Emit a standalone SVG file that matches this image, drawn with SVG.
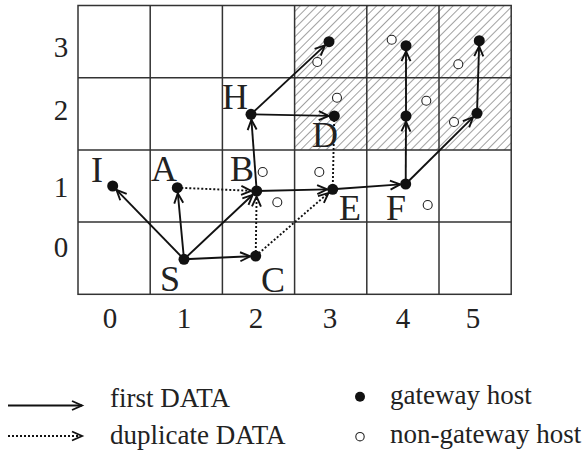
<svg xmlns="http://www.w3.org/2000/svg" width="585" height="463" viewBox="0 0 585 463">
<style>
.grid{stroke:#333;stroke-width:1.5;fill:none}
.lbl{font-family:"Liberation Serif","Times New Roman",serif;font-size:36px;fill:#222;text-anchor:middle}
.ax{font-family:"Liberation Serif","Times New Roman",serif;font-size:29px;fill:#222;text-anchor:middle}
.leg{font-family:"Liberation Serif","Times New Roman",serif;font-size:27px;fill:#222}
.gw{fill:#111}
.ng{fill:#fff;stroke:#222;stroke-width:1.1}
.solid{stroke:#111;stroke-width:1.9;fill:none;marker-end:url(#ah)}
.dot{stroke:#111;stroke-width:1.9;fill:none;stroke-dasharray:2 2;marker-end:url(#ah)}
</style>
<defs>
<pattern id="hatch" patternUnits="userSpaceOnUse" width="6" height="6" patternTransform="rotate(45)">
<line x1="0" y1="0" x2="0" y2="6" stroke="#444" stroke-width="1"/>
</pattern>
<marker id="ah" markerUnits="userSpaceOnUse" markerWidth="12" markerHeight="12" refX="10" refY="4.5" orient="auto" overflow="visible">
<path d="M0,0 L10,4.5 L0,9" fill="none" stroke="#111" stroke-width="1.9"/>
</marker>
</defs>
<rect width="585" height="463" fill="#fff"/>
<g id="grid">
<rect x="294.6" y="5.5" width="216.6" height="144.4" fill="url(#hatch)"/>
<rect class="grid" x="78" y="5.5" width="433.2" height="288.8"/>
<path class="grid" d="M150.2,5.5V294.3M222.4,5.5V294.3M294.6,5.5V294.3M366.8,5.5V294.3M439,5.5V294.3M78,77.7H511.2M78,149.9H511.2M78,222.1H511.2"/>
</g>
<g id="axes">
<text class="ax" x="61" y="57">3</text>
<text class="ax" x="61" y="120">2</text>
<text class="ax" x="61" y="197">1</text>
<text class="ax" x="61" y="257">0</text>
<text class="ax" x="110" y="328">0</text>
<text class="ax" x="184" y="328">1</text>
<text class="ax" x="256" y="328">2</text>
<text class="ax" x="330" y="328">3</text>
<text class="ax" x="403" y="328">4</text>
<text class="ax" x="473" y="328">5</text>
</g>
<g id="connectors">
<line class="solid" x1="184" y1="259.3" x2="116.5" y2="189.9"/>
<line class="solid" x1="184" y1="259.3" x2="177.8" y2="193.2"/>
<line class="solid" x1="184" y1="259.3" x2="252.7" y2="194.8"/>
<line class="solid" x1="184" y1="259.3" x2="250.2" y2="256.3"/>
<line class="solid" x1="256.7" y1="191" x2="251.4" y2="119.8"/>
<line class="solid" x1="251" y1="114.3" x2="325" y2="45.4"/>
<line class="solid" x1="251" y1="114.3" x2="328.8" y2="115.9"/>
<line class="solid" x1="256.7" y1="191" x2="327.2" y2="189.4"/>
<line class="solid" x1="332.7" y1="189.3" x2="400.2" y2="184.4"/>
<line class="solid" x1="405.7" y1="184" x2="406" y2="121.5"/>
<line class="solid" x1="406" y1="116" x2="406" y2="51.2"/>
<line class="solid" x1="405.7" y1="184" x2="473.1" y2="117.2"/>
<line class="solid" x1="477" y1="113.3" x2="479.1" y2="46.2"/>
<line class="dot" x1="177.3" y1="187.7" x2="251.2" y2="190.8"/>
<line class="dot" x1="255.7" y1="256" x2="256.6" y2="196.5"/>
<line class="dot" x1="255.7" y1="256" x2="328.5" y2="192.9"/>
<line x1="334.3" y1="116" x2="332.7" y2="189.3" stroke="#111" stroke-width="1.9" stroke-dasharray="2 2"/>
</g>
<g id="nongateway">
<circle class="ng" cx="262.7" cy="172" r="4.5"/>
<circle class="ng" cx="277.3" cy="202.3" r="4.5"/>
<circle class="ng" cx="319.3" cy="172" r="4.5"/>
<circle class="ng" cx="427.7" cy="205" r="4.5"/>
<circle class="ng" cx="317.3" cy="62" r="4.5"/>
<circle class="ng" cx="337" cy="97.7" r="4.5"/>
<circle class="ng" cx="391.7" cy="39.7" r="4.5"/>
<circle class="ng" cx="426.3" cy="100.7" r="4.5"/>
<circle class="ng" cx="458.3" cy="64.3" r="4.5"/>
<circle class="ng" cx="454" cy="122" r="4.5"/>
</g>
<g id="node-I"><circle class="gw" cx="112.7" cy="186" r="5.5"/><text class="lbl" x="97" y="182">I</text></g>
<g id="node-A"><circle class="gw" cx="177.3" cy="187.7" r="5.5"/><text class="lbl" x="164" y="181">A</text></g>
<g id="node-B"><circle class="gw" cx="256.7" cy="191" r="5.5"/><text class="lbl" x="242" y="181">B</text></g>
<g id="node-S"><circle class="gw" cx="184" cy="259.3" r="5.5"/><text class="lbl" x="170" y="291">S</text></g>
<g id="node-C"><circle class="gw" cx="255.7" cy="256" r="5.5"/><text class="lbl" x="273" y="292">C</text></g>
<g id="node-H"><circle class="gw" cx="251" cy="114.3" r="5.5"/><text class="lbl" x="235" y="109">H</text></g>
<g id="node-D"><circle class="gw" cx="334.3" cy="116" r="5.5"/><text class="lbl" x="325" y="147">D</text></g>
<g id="node-E"><circle class="gw" cx="332.7" cy="189.3" r="5.5"/><text class="lbl" x="350" y="220">E</text></g>
<g id="node-F"><circle class="gw" cx="405.7" cy="184" r="5.5"/><text class="lbl" x="396" y="220">F</text></g>
<g id="node-g3-3"><circle class="gw" cx="329" cy="41.7" r="5.5"/></g>
<g id="node-g4-3"><circle class="gw" cx="406" cy="45.7" r="5.5"/></g>
<g id="node-g4-2"><circle class="gw" cx="406" cy="116" r="5.5"/></g>
<g id="node-g5-3"><circle class="gw" cx="479.3" cy="40.7" r="5.5"/></g>
<g id="node-g5-2"><circle class="gw" cx="477" cy="113.3" r="5.5"/></g>
<g id="legend">
<line class="solid" x1="8" y1="405.5" x2="82" y2="405.5"/>
<text class="leg" x="110" y="407">first DATA</text>
<line class="dot" x1="8" y1="436" x2="82" y2="436"/>
<text class="leg" x="110" y="444">duplicate DATA</text>
<circle class="gw" cx="360" cy="396.7" r="5"/>
<text class="leg" x="390" y="404">gateway host</text>
<circle class="ng" cx="360" cy="436.7" r="4.2"/>
<text class="leg" x="390" y="443">non-gateway host</text>
</g>
</svg>
